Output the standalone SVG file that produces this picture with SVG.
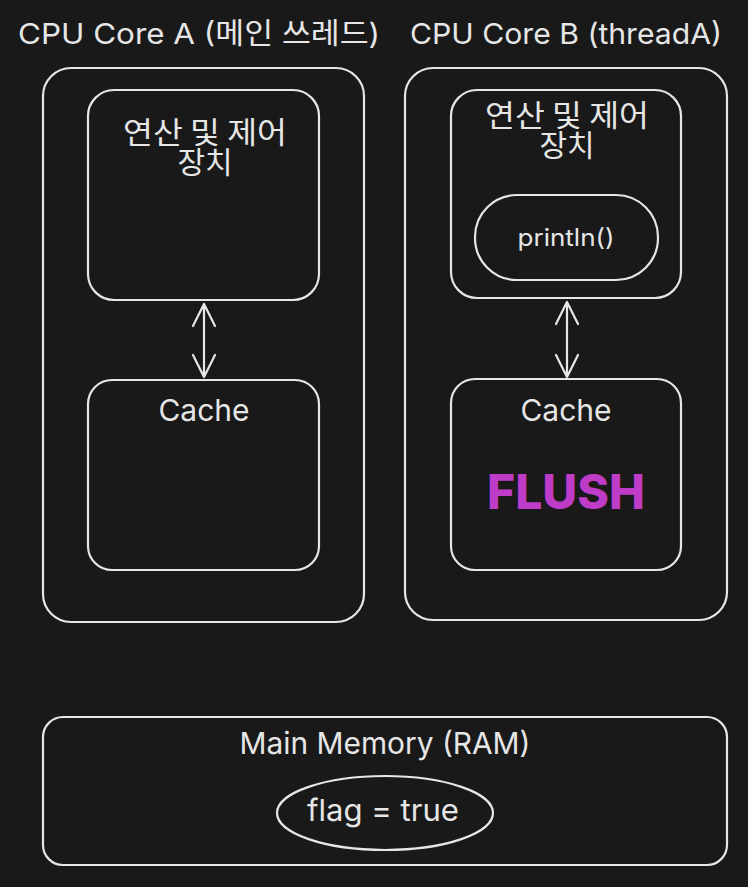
<svg xmlns="http://www.w3.org/2000/svg" width="748" height="887" viewBox="0 0 748 887">
<defs>
<style>
.box{fill:none;stroke:#e6e6e6;stroke-width:2.2}
.t{fill:#e6e6e6;font-family:Inter,"Noto Sans CJK KR",sans-serif;font-size:30px;text-anchor:middle}
.k{fill:#e6e6e6;font-family:"Noto Sans CJK KR",sans-serif;font-size:30px;text-anchor:middle}
.line{fill:none;stroke:#e6e6e6;stroke-width:2.2;stroke-linecap:round;stroke-linejoin:round}
</style>
</defs>
<rect width="748" height="887" fill="#191919"/>
<g id="title-a"><text class="t" x="199" y="44" style="font-size:29px" textLength="362" lengthAdjust="spacingAndGlyphs">CPU Core A (메인 쓰레드)</text></g>
<g id="title-b"><text class="t" x="566" y="44" style="font-size:29px" textLength="312" lengthAdjust="spacingAndGlyphs">CPU Core B (threadA)</text></g>
<g id="core-a"><rect class="box" x="43" y="68" width="321" height="554" rx="28"/></g>
<g id="core-b"><rect class="box" x="405" y="68" width="322" height="552" rx="28"/></g>
<g id="alu-a"><rect class="box" x="88" y="90" width="231" height="210" rx="26"/>
<text class="k"><tspan x="205" y="143" textLength="164" lengthAdjust="spacingAndGlyphs">연산 및 제어</tspan><tspan x="205" y="173">장치</tspan></text></g>
<g id="cache-a"><rect class="box" x="88" y="380" width="231" height="190" rx="24"/>
<text class="t" x="204" y="421">Cache</text></g>
<g id="alu-b"><rect class="box" x="451" y="90" width="230" height="208" rx="26"/>
<text class="k"><tspan x="567" y="126" textLength="164" lengthAdjust="spacingAndGlyphs">연산 및 제어</tspan><tspan x="567" y="156">장치</tspan></text></g>
<g id="println"><rect class="box" x="475" y="195" width="183" height="85" rx="42"/>
<text class="t" x="566" y="246" style="font-size:24px" textLength="97" lengthAdjust="spacingAndGlyphs">println()</text></g>
<g id="cache-b"><rect class="box" x="451" y="379" width="230" height="191" rx="24"/>
<text class="t" x="566" y="421">Cache</text>
<text x="566" y="509" style="fill:#be3cc8;font-family:Inter,sans-serif;font-size:48px;font-weight:800;text-anchor:middle">FLUSH</text></g>
<g id="memory"><rect class="box" x="43" y="717" width="684" height="148" rx="20"/>
<text class="t" x="385" y="754" textLength="291" lengthAdjust="spacingAndGlyphs">Main Memory (RAM)</text>
<ellipse class="box" cx="385" cy="813" rx="108" ry="37"/>
<text class="t" x="383" y="821" textLength="152" lengthAdjust="spacingAndGlyphs">flag = true</text></g>
<g id="connectors">
<path class="line" d="M204 304 V377 M193 326 L204 304 L215 326 M193 355 L204 377 L215 355"/>
<path class="line" d="M567 302 V377 M556 324 L567 302 L578 324 M556 355 L567 377 L578 355"/>
</g>
</svg>
